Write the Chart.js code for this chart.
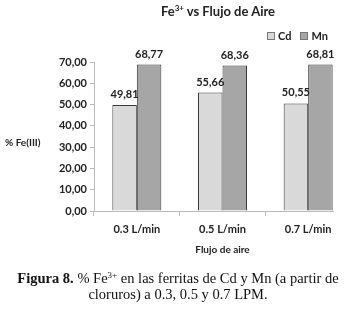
<!DOCTYPE html>
<html>
<head>
<meta charset="utf-8">
<script src="https://cdn.jsdelivr.net/npm/chart.js@4"></script>
<style>
  html, body { margin: 0; padding: 0; background: #fff; }
  #wrap { position: relative; width: 354px; height: 312px; overflow: hidden; }
  #clip { position: absolute; left: 0; top: 0; width: 334px; height: 275px; overflow: hidden; }
  #c { position: absolute; left: 0; top: 0; }
  #title { position: absolute; top: 3px; left: 118px; width: 200px; text-align: center;
           font: bold 13px Lato, "Liberation Sans", sans-serif; color: #222; }
  #title sup { font-size: 8px; vertical-align: 5px; line-height: 0; }
  #legend { position: absolute; top: 29px; left: 267px; font: bold 11px Lato, sans-serif; color: #222; white-space: nowrap; }
  #legend span.sw { display: inline-block; width: 6px; height: 6px; border: 1px solid #777; margin-right: 3px; vertical-align: 0px; }
  #legend span.it { margin-right: 9px; }
  #ylab { position: absolute; left: 5px; top: 136px; font: bold 10px Lato, sans-serif; color: #222; }
  #caption { position: absolute; top: 270px; left: 0; width: 356px; text-align: center;
             font: 14.5px "Liberation Serif", "Times New Roman", serif; line-height: 16px; color: #111; }
  #caption sup { font-size: 9px; vertical-align: 5px; line-height: 0; }
</style>
</head>
<body>
<div id="wrap">
  <div id="clip"><canvas id="c" width="354" height="275"></canvas></div>
  <div id="title">Fe<sup>3+</sup> vs Flujo de Aire</div>
  <div id="legend"></div>
  <div id="ylab">% Fe(III)</div>
  <div id="caption"><b>Figura 8.</b> % Fe<sup>3+</sup> en las ferritas de Cd y Mn (a partir de<br>cloruros) a 0.3, 0.5 y 0.7 LPM.</div>
</div>
<script>
const categories = ["0.3 L/min", "0.5 L/min", "0.7 L/min"];
const seriesNames = ["Cd", "Mn"];
const cdValues = [49.81, 55.66, 50.55];
const mnValues = [68.77, 68.36, 68.81];
const yTicks = [0, 10, 20, 30, 40, 50, 60, 70];
const fills = ["#d9d9d9", "#a6a6a6"];

const fmt = v => v.toFixed(2).replace(".", ",");

// HTML legend from the series
const leg = document.getElementById("legend");
seriesNames.forEach((n, i) => {
  const s = document.createElement("span");
  s.className = "it";
  s.innerHTML = '<span class="sw" style="background:' + fills[i] + '"></span>' + n;
  leg.appendChild(s);
});

const labelPlugin = {
  id: "valLabels",
  afterDatasetsDraw(chart) {
    const ctx = chart.ctx;
    ctx.save();
    ctx.font = "bold 11px Lato, sans-serif";
    ctx.fillStyle = "#222";
    ctx.textAlign = "center";
    ctx.textBaseline = "bottom";
    chart.data.datasets.forEach((ds, di) => {
      chart.getDatasetMeta(di).data.forEach((bar, i) => {
        ctx.fillText(fmt(ds.data[i]), bar.x, bar.y - 5);
      });
    });
    ctx.restore();
  }
};

new Chart(document.getElementById("c"), {
  type: "bar",
  data: {
    labels: categories,
    datasets: [
      { label: seriesNames[0], data: cdValues, backgroundColor: fills[0], borderColor: "#3a3a3a", borderWidth: 1 },
      { label: seriesNames[1], data: mnValues, backgroundColor: fills[1], borderColor: "#3a3a3a", borderWidth: 1 }
    ]
  },
  options: {
    responsive: false,
    animation: false,
    events: [],
    layout: { padding: { left: 0, right: 3, top: 62, bottom: 13 } },
    datasets: { bar: { categoryPercentage: 0.572, barPercentage: 1.0 } },
    plugins: { legend: { display: false }, title: { display: false }, tooltip: { enabled: false } },
    scales: {
      x: {
        grid: { offset: true, drawOnChartArea: false, drawTicks: true, tickLength: 5, color: "#bbb" },
        border: { color: "#bbb" },
        ticks: { font: { family: "Lato", size: 11, weight: "bold" }, color: "#222", padding: 7 },
        title: { display: true, text: "Flujo de aire", font: { family: "Lato", size: 10, weight: "bold" }, color: "#222", padding: { top: 0, bottom: 6 } },
        afterFit: s => { s.height = 51; }
      },
      y: {
        min: 0, max: 70,
        afterBuildTicks: s => { s.ticks = yTicks.map(v => ({ value: v })); },
        grid: { drawOnChartArea: false, drawTicks: true, tickLength: 4, color: "#bbb" },
        border: { color: "#bbb" },
        ticks: { font: { family: "Lato", size: 11, weight: "bold" }, color: "#222", padding: 3, callback: v => fmt(v) },
        afterFit: s => { s.width = 94; }
      }
    }
  },
  plugins: [labelPlugin]
});
</script>
</body>
</html>
